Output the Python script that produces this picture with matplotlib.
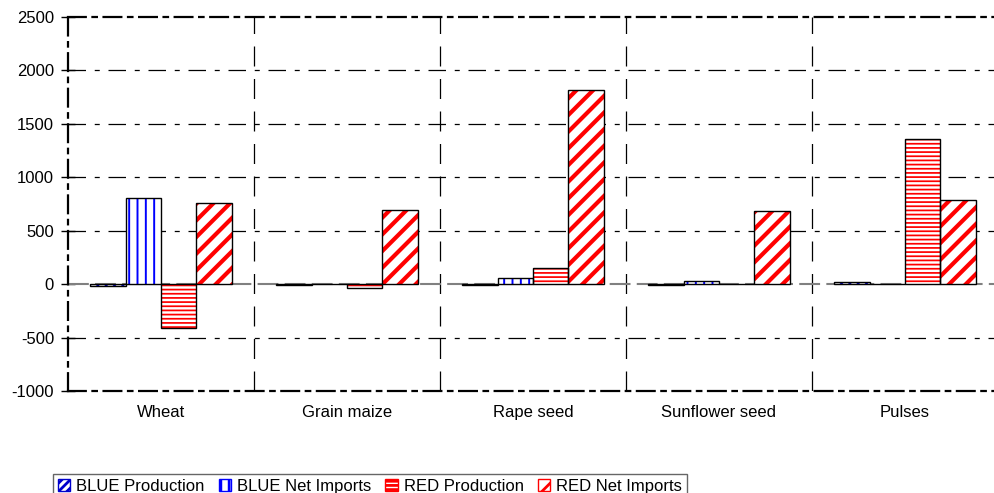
import matplotlib.pyplot as plt
import numpy as np
from matplotlib.patches import Patch

plt.rcParams["font.family"] = ["Liberation Sans", "DejaVu Sans"]
plt.rcParams["hatch.linewidth"] = 2.0

categories = ["Wheat", "Grain maize", "Rape seed", "Sunflower seed", "Pulses"]
series_names = ["BLUE Production", "BLUE Net Imports", "RED Production", "RED Net Imports"]
blue_production = [-20, -10, -8, -8, 20]
blue_net_imports = [810, 5, 55, 30, 5]
red_production = [-415, -40, 150, 5, 1355]
red_net_imports = [760, 690, 1820, 680, 785]
y_ticks = [-1000, -500, 0, 500, 1000, 1500, 2000, 2500]

series_values = [blue_production, blue_net_imports, red_production, red_net_imports]
hatch_colors = ["#0000CC", "#0000FF", "#FF0000", "#FF0000"]
hatches = ["////", "||", "----", "//"]
hatch_widths = [1.5, 1.4, 1.25, 3.0]

fig = plt.figure(figsize=(9.94, 4.93), dpi=100)
ax = fig.add_axes([0.0684, 0.2069, 0.9356, 0.7586])

x = np.arange(len(categories))
bar_w = 0.19
offsets = (np.arange(4) - 1.5) * bar_w

for i, vals in enumerate(series_values):
    # hatch layer in stripe colour, then black outline on top
    bars = ax.bar(x + offsets[i], vals, bar_w, facecolor="white", edgecolor=hatch_colors[i],
                  hatch=hatches[i], linewidth=0, zorder=3)
    for b in bars:
        if hasattr(b, "set_hatch_linewidth"):
            b.set_hatch_linewidth(hatch_widths[i])
    ax.bar(x + offsets[i], vals, bar_w, facecolor="none", edgecolor="black",
           linewidth=1.0, zorder=4)

ax.set_xlim(-0.5, len(categories) - 0.5)
ax.set_ylim(-1000, 2500)
ax.set_yticks(y_ticks)
ax.set_yticklabels([str(v) for v in y_ticks], fontsize=12)
ax.set_xticks(x)
ax.set_xticklabels(categories, fontsize=12)
ax.tick_params(axis="x", length=0, pad=10)
ax.tick_params(axis="y", direction="inout", length=10, width=1, pad=5)

for yv in y_ticks[1:-1]:
    if yv == 0:
        ax.axhline(0, color="#808080", linewidth=1.5, dashes=(10, 3), zorder=2)
    else:
        ax.axhline(yv, color="black", linewidth=0.9, dashes=(14, 7, 4, 7), zorder=1)
for xb in np.arange(0.5, len(categories) - 0.5):
    ax.axvline(xb, color="black", linewidth=0.9, dashes=(16, 10), zorder=1)

for side in ["left", "top", "bottom", "right"]:
    ax.spines[side].set_linestyle((0, (8, 3, 2, 3)))
    ax.spines[side].set_linewidth(1.6)

handles = []
for c, h, w in zip(hatch_colors, hatches, hatch_widths):
    p = Patch(facecolor="white", edgecolor=c, hatch=h)
    handles.append(p)
leg = fig.legend(handles, series_names, loc="lower left", bbox_to_anchor=(0.053, -0.012),
                 ncol=4, fontsize=12, frameon=True, fancybox=False, handlelength=0.75,
                 handleheight=0.75, handletextpad=0.35, columnspacing=0.85, borderpad=0.3,
                 borderaxespad=0)
leg.get_frame().set_edgecolor("#404040")
leg.get_frame().set_linewidth(1.0)

fig.savefig("out.png", dpi=100)
